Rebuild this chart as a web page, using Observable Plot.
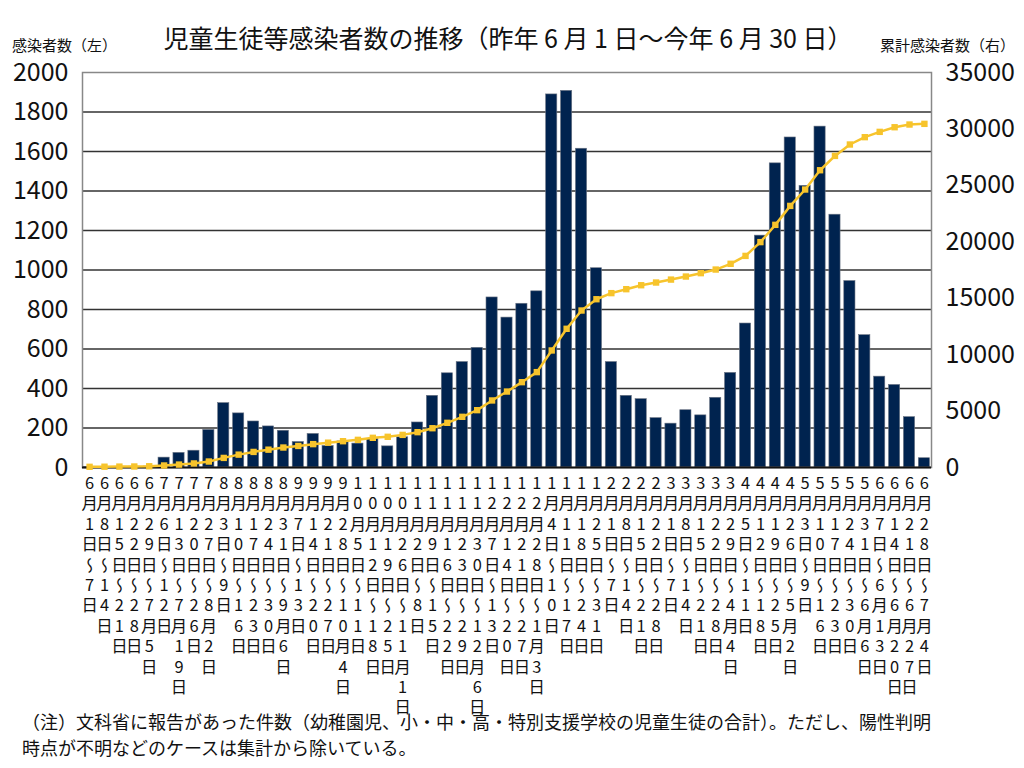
<!DOCTYPE html>
<html><head><meta charset="utf-8">
<script src="https://cdn.jsdelivr.net/npm/d3@7"></script>
<script src="https://cdn.jsdelivr.net/npm/@observablehq/plot@0.6"></script>
<style>
html,body{margin:0;padding:0;background:#fff;}
#wrap{position:relative;width:1024px;height:768px;overflow:hidden;font-family:"Noto Sans CJK JP",sans-serif;color:#111;}
.abs{position:absolute;white-space:nowrap;line-height:1;}
#title{left:8px;width:1000px;text-align:center;top:25px;font-size:25px;}
#ll{left:12px;top:37px;font-size:15px;}
#rl{left:880px;top:37px;font-size:15px;}
#chart{position:absolute;left:0;top:50px;}
#note{left:22px;top:708px;font-size:18px;line-height:26px;}
</style></head>
<body><div id="wrap">
<div id="chart"></div>
<div class="abs" id="title">児童生徒等感染者数の推移（昨年 6 月 1 日〜今年 6 月 30 日）</div>
<div class="abs" id="ll">感染者数（左）</div>
<div class="abs" id="rl">累計感染者数（右）</div>
<div class="abs" id="note">（注）文科省に報告があった件数（幼稚園児、小・中・高・特別支援学校の児童生徒の合計）。ただし、陽性判明<br>時点が不明などのケースは集計から除いている。</div>
</div>
<script>
const labels = [
"6月1日〜7日","6月8日〜14日","6月15日〜21日","6月22日〜28日","6月29日〜7月5日",
"7月6日〜12日","7月13日〜7月19日","7月20日〜26日","7月27日〜8月2日",
"8月3日〜9日","8月10日〜16日","8月17日〜23日","8月24日〜30日","8月31日〜9月6日",
"9月7日〜13日","9月14日〜20日","9月21日〜27日","9月28日〜10月4日",
"10月5日〜11日","10月12日〜18日","10月19日〜25日","10月26日〜11月1日",
"11月2日〜8日","11月9日〜15日","11月16日〜22日","11月23日〜29日","11月30日〜12月6日",
"12月7日〜13日","12月14日〜20日","12月21日〜27日","12月28日〜1月3日",
"1月4日〜10日","1月11日〜17日","1月18日〜24日","1月25日〜31日",
"2月1日〜7日","2月8日〜14日","2月15日〜21日","2月22日〜28日",
"3月1日〜7日","3月8日〜14日","3月15日〜21日","3月22日〜28日","3月29日〜4月4日",
"4月5日〜11日","4月12日〜18日","4月19日〜25日","4月26日〜5月2日",
"5月3日〜9日","5月10日〜16日","5月17日〜23日","5月24日〜30日","5月31日〜6月6日",
"6月7日〜6月13日","6月14日〜6月20日","6月21日〜6月27日","6月28日〜7月4日"
];
const cases = [
2,3,2,4,5,
50,74,85,190,
326,274,233,208,186,
129,170,109,132,
121,145,107,153,
228,363,477,534,606,
861,759,829,892,
1889,1907,1614,1009,
534,363,346,250,
222,290,264,353,479,
729,1174,1540,1671,
1426,1726,1280,944,670,
460,418,255,47
];
const cumulative = [
60,70,80,90,110,
180,260,360,530,
850,1140,1380,1580,1770,
1910,2070,2200,2330,
2450,2630,2720,2890,
3130,3480,3960,4490,5080,
5940,6730,7560,8450,
10370,12290,13910,14910,
15450,15800,16150,16390,
16650,16920,17220,17540,18050,
18750,19970,21500,23180,
24630,26340,27610,28620,29270,
29740,30150,30390,30450
];
const leftTicks = [0,200,400,600,800,1000,1200,1400,1600,1800,2000];
const rightTicks = [0,5000,10000,15000,20000,25000,30000,35000];
const ratio = 35000 / 2000;

const rows = labels.map((label, i) => ({label, cases: cases[i], cum: cumulative[i]}));
const font = '"Noto Sans CJK JP", sans-serif';

const chart = Plot.plot({
  width: 1024, height: 685,
  marginLeft: 82, marginRight: 93, marginTop: 22, marginBottom: 268,
  x: {domain: labels, paddingInner: 0.25, paddingOuter: 0.1, label: null},
  y: {domain: [0, 2000], label: null},
  style: {fontFamily: font, color: "#111", background: "transparent"},
  marks: [
    Plot.gridY(leftTicks.filter(v => v > 0 && v < 2000), {stroke: "#333", strokeOpacity: 1, strokeWidth: 1.5}),
    Plot.barY(rows, {x: "label", y: "cases", fill: "#00234f", stroke: "#6b7484", strokeWidth: 0.6}),
    Plot.frame({stroke: "#888", strokeWidth: 1.5}),
    Plot.ruleY([0], {stroke: "#111", strokeWidth: 2}),
    Plot.line(rows, {x: "label", y: d => d.cum / ratio, stroke: "#f7c42c", strokeWidth: 2.5}),
    Plot.dot(rows, {x: "label", y: d => d.cum / ratio, symbol: "square", r: 3.6, fill: "#f7c42c"}),
    Plot.axisY(leftTicks, {anchor: "left", label: null, tickSize: 0, tickPadding: 14, fontSize: 25, tickFormat: d => String(d)}),
    Plot.axisY(rightTicks.map(v => v / ratio), {anchor: "right", label: null, tickSize: 0, tickPadding: 14, fontSize: 25, tickFormat: d => String(Math.round(d * ratio))}),
    Plot.axisX({anchor: "bottom", label: null, tickSize: 0, tickPadding: 7, fontSize: 16.4, tickFormat: d => d})
  ]
});
document.getElementById("chart").appendChild(chart);

d3.select(chart).selectAll('g[aria-label="x-axis tick label"] text').each(function() {
  d3.select(this)
    .attr("y", null).attr("dy", null).attr("text-anchor", "start")
    .style("writing-mode", "vertical-rl")
    .style("text-orientation", "upright")
    .style("letter-spacing", "4px");
});
</script>
</body></html>
